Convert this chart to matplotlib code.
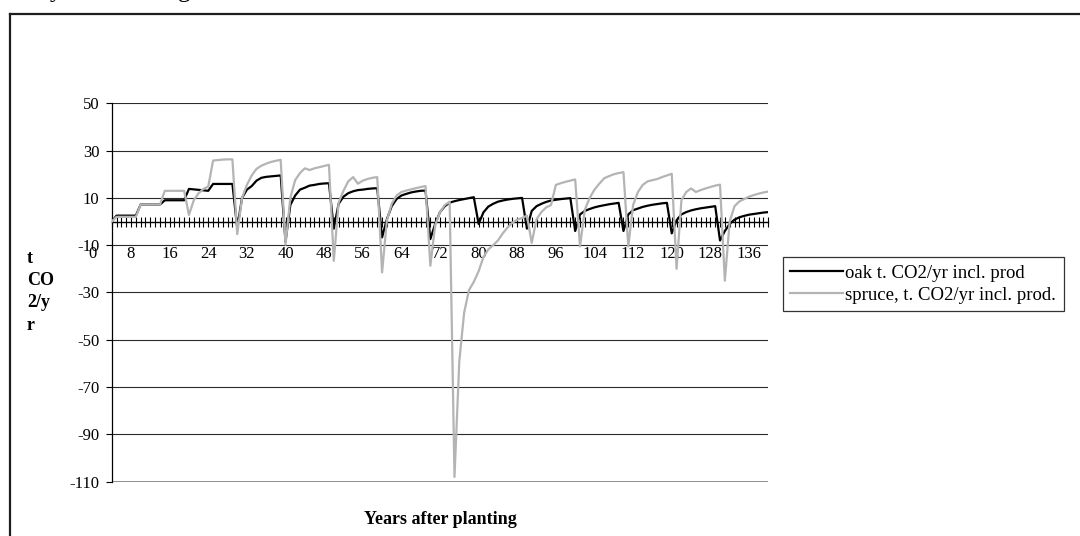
import matplotlib.pyplot as plt
from matplotlib.lines import Line2D

plt.rcParams['font.family'] = ['Liberation Serif', 'DejaVu Serif']
plt.rcParams['axes.unicode_minus'] = False

# years after planting (first plotted year is 4)
years = list(range(4, 141))

# oak t. CO2/yr incl. prod
oak = [
    0, 2.5, 2.5, 2.5, 2.5, 2.5,                                  # 4-9
    7.2, 7.2, 7.2, 7.2, 7.2, 9, 9, 9, 9, 9,                      # 10-19
    13.8, 13.6, 13.4, 13.2, 13, 15.9, 15.9, 15.9, 15.9, 15.9,    # 20-29
    -2.7, 10, 13.5, 15, 17.3, 18.5, 18.9, 19.1, 19.3, 19.5,      # 30-39
    -8.5, 7, 11, 13.5, 14.3, 15.2, 15.5, 15.9, 16.1, 16.2,       # 40-49
    -3, 7.5, 10.5, 12, 12.8, 13.3, 13.5, 13.8, 14, 14.1,         # 50-59
    -6.7, 1, 6.5, 9.5, 11, 11.7, 12.3, 12.7, 13, 13.1,           # 60-69
    -7.4, -1, 4, 6.5, 8, 8.6, 9.1, 9.5, 9.9, 10.3,               # 70-79
    -1, 3.9, 6.3, 7.5, 8.4, 8.9, 9.3, 9.6, 9.8, 10,              # 80-89
    -3, 4.5, 6.5, 7.5, 8.3, 8.9, 9.2, 9.5, 9.7, 9.9,             # 90-99
    -4, 3, 4.5, 5.3, 6, 6.5, 6.9, 7.3, 7.6, 7.9,                 # 100-109
    -4, 3, 4.8, 5.5, 6.2, 6.7, 7.1, 7.4, 7.7, 7.9,               # 110-119
    -5, 0.5, 3, 4, 4.7, 5.2, 5.6, 5.9, 6.2, 6.5,                 # 120-129
    -8, -4, -1, 0.8, 1.8, 2.4, 2.9, 3.2, 3.5, 3.8, 4,            # 130-140
]

# spruce, t. CO2/yr incl. prod.
spruce = [
    0, 2, 2, 2, 2, 2,                                            # 4-9
    7.2, 7.2, 7.2, 7.2, 7.2, 13, 13, 13, 13, 13,                 # 10-19
    2.8, 9, 12, 13.8, 14.8, 25.8, 26, 26.2, 26.3, 26.3,          # 20-29
    -5.3, 10, 15.5, 19.5, 22.3, 23.6, 24.5, 25.2, 25.7, 26.1,    # 30-39
    -9.8, 10, 17.5, 20.5, 22.5, 21.8, 22.5, 23, 23.5, 24,        # 40-49
    -16.6, 8, 13, 17, 18.8, 16, 17.3, 18, 18.5, 18.8,            # 50-59
    -21.5, 0.5, 7.5, 11, 12.5, 13.1, 13.6, 14.1, 14.6, 15,       # 60-69
    -18.7, -1.5, 4, 7, 8.4, -108, -59, -38.5, -29, -25.5,        # 70-79
    -21, -15, -11.8, -10, -8, -5, -2.5, -0.5, 0.8, 1.5,          # 80-89
    2.5, -9, 1, 4, 6, 7, 15.5, 16.2, 16.8, 17.3,                 # 90-99
    17.8, -10.5, 5, 10, 13.5, 16, 18.3, 19.2, 20, 20.5,          # 100-109
    20.9, -10.5, 7, 12.5, 15.5, 17, 17.5, 18, 18.8, 19.5,        # 110-119
    20.2, -20, 9, 12.5, 14, 12.5, 13.3, 14, 14.6, 15.2,          # 120-129
    15.6, -25, 0, 6.5, 8.5, 9.5, 10.5, 11.2, 11.8, 12.3, 12.7,   # 130-140
]

y_ticks = [-110, -90, -70, -50, -30, -10, 10, 30, 50]
x_label_years = list(range(8, 137, 8))

W, H = 1080, 536
fig = plt.figure(figsize=(W / 100, H / 100), dpi=100)
ax = fig.add_axes([111.7 / W, 1 - 481.7 / H, (768.3 - 111.7) / W, (481.7 - 103.3) / H])

# gridlines (bottom one is the grey plot-area edge)
for v in y_ticks[1:]:
    ax.axhline(v, color='#2a2a2a', lw=0.8, zorder=1)
ax.axhline(-110, color='#858585', lw=2, zorder=1)

ax.plot(years, oak, color='black', lw=1.6, label='oak t. CO2/yr incl. prod', zorder=3)
ax.plot(years, spruce, color='#b4b4b4', lw=1.6, label='spruce, t. CO2/yr incl. prod.', zorder=4)

ax.set_xlim(4, 140)
ax.set_ylim(-110, 50)

for s in ['top', 'right']:
    ax.spines[s].set_visible(False)
ax.spines['left'].set_linewidth(0.9)
ax.spines['bottom'].set_position(('data', 0))
ax.spines['bottom'].set_linewidth(1)
ax.spines['bottom'].set_zorder(2)

ax.set_yticks(y_ticks)
ax.tick_params(axis='y', direction='out', length=4, width=0.8, pad=5, labelsize=12)

ax.set_xticks(x_label_years)
ax.set_xticks(years, minor=True)
ax.tick_params(axis='x', which='both', direction='inout', length=7, width=0.8)
ax.tick_params(axis='x', which='major', pad=14, labelsize=12)
# category label "0" sits left of the first plotted year
ax.annotate('0', xy=(0, 0), xycoords='data', xytext=(0, -3.5 - 14),
            textcoords='offset points', ha='center', va='top', fontsize=12,
            annotation_clip=False)

fig.text(27 / W, 1 - 250 / H, 't\nCO\n2/y\nr', fontweight='bold', fontsize=13,
         ha='left', va='top', linespacing=1.4)
fig.text(440 / W, 1 - 520 / H, 'Years after planting', fontweight='bold',
         fontsize=13, ha='center', va='center')

leg = fig.legend(loc='upper left', bbox_to_anchor=(782.5 / W, 1 - 257.3 / H),
                 frameon=True, fancybox=False, edgecolor='black', borderaxespad=0,
                 handlelength=2.8, handletextpad=0.15, fontsize=13.5,
                 borderpad=0.4, labelspacing=0.25)
leg.get_frame().set_linewidth(0.9)

# chart border (runs off the right and bottom of the picture)
fig.add_artist(Line2D([10 / W, 1], [1 - 13.5 / H] * 2, color='#1e1e1e', lw=1.6,
                      transform=fig.transFigure))
fig.add_artist(Line2D([10 / W] * 2, [1 - 13.5 / H, 0], color='#1e1e1e', lw=1.6,
                      transform=fig.transFigure))

# cut-off title above the chart: only descenders remain visible
fig.text(50 / W, 1 + 3 / H, 'y', fontsize=18, va='baseline', ha='left')
fig.text(178 / W, 1 + 3 / H, 'g', fontsize=18, va='baseline', ha='left')

fig.savefig('out.png', dpi=100)
